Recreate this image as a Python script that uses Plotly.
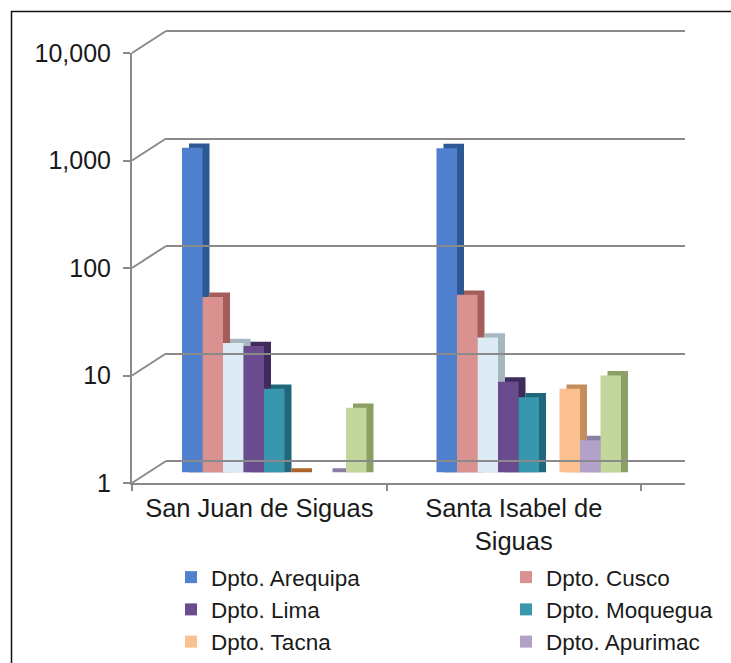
import math
import plotly.graph_objects as go

# ---------------- data ----------------
categories = ["San Juan de Siguas", "Santa Isabel de Siguas"]
category_labels = ["San Juan de Siguas", "Santa Isabel de<br>Siguas"]

series_names = ["Dpto. Arequipa", "Dpto. Cusco", "Dpto. Puno", "Dpto. Lima",
                "Dpto. Moquegua", "Dpto. Ica", "Dpto. Tacna", "Dpto. Apurimac", "Otros"]
arequipa = [1050, 1040]
cusco = [43, 45]
puno = [16, 18]
lima = [15, 7]
moquegua = [6, 5]
ica = [1, 0]
tacna = [0, 6]
apurimac = [1, 2]
otros = [4, 8]
y_ticks = [1, 10, 100, 1000, 10000]

series_values = [arequipa, cusco, puno, lima, moquegua, ica, tacna, apurimac, otros]

# ---------------- styles ----------------
front_colors = ["#4F81CF", "#D9928F", "#DCEBF4", "#6A4C8E", "#3896AE",
                "#E07A2E", "#FAC08F", "#B2A1C8", "#C3D69B"]
side_colors = ["#2E5893", "#A35D5A", "#A7B7C0", "#3F2B5C", "#21677B",
               "#B0642A", "#C58C5C", "#8C7DA6", "#8CA066"]
# which legend column each series sits in (None = not shown, cropped in original)
legend_slot = ["legend", "legend2", None, "legend", "legend2", None,
               "legend", "legend2", None]

W, H = 731, 663
def px(x):
    return x / W
def py(y):
    return 1 - y / H

GRID = "#8A8A8A"
FONT = "Liberation Sans, Arial, sans-serif"
TXT = "#1A1A1A"

# geometry (pixels)
FRONT_X0, FRONT_X1 = 132, 685
FRONT_Y1, FRONT_Y10K = 483, 53
BACK_X0, BACK_X1 = 166, 685
BACK_Y1, BACK_Y10K = 461, 31
BACK_PAD = 0.05  # decades of padding so edge gridlines get drawn
BAND = 254.5
BAR_X0 = 147
BAR_Y1, BAR_Y10K = 472.5, 42.5
BAR_PX = 20.5
DEPTH_DX, DEPTH_DY = 7.0, 4.3

n = len(series_values)
bw = BAR_PX / BAND
group_w = n * bw
decade_px = (BAR_Y1 - BAR_Y10K) / 4
depth_factor = 10 ** (DEPTH_DY / decade_px)
dx_units = DEPTH_DX / BAND
back_dec = (BACK_Y1 - BACK_Y10K) / 4

fig = go.Figure()

for i, (name, vals) in enumerate(zip(series_names, series_values)):
    off = -group_w / 2 + i * bw
    side_len = [v * depth_factor - 1 if v > 0 else None for v in vals]
    front_len = [v - 1 if v > 0 else None for v in vals]
    fig.add_trace(go.Bar(
        x=categories, y=side_len, base=1, offset=off + dx_units, width=bw,
        marker=dict(color=side_colors[i], line=dict(width=0)),
        showlegend=False, hoverinfo="skip", xaxis="x", yaxis="y"))
    fig.add_trace(go.Bar(
        x=categories, y=front_len, base=1, offset=off, width=bw, name=name,
        marker=dict(color=front_colors[i], line=dict(width=0)),
        showlegend=legend_slot[i] is not None,
        legend=legend_slot[i] if legend_slot[i] else "legend",
        customdata=vals,
        hovertemplate="%{x}<br>" + name + ": %{customdata}<extra></extra>",
        xaxis="x", yaxis="y"))

# helper traces to instantiate the front and back-wall axes
fig.add_trace(go.Scatter(x=categories, y=[None, None], xaxis="x2", yaxis="y2",
                         showlegend=False, hoverinfo="skip", mode="markers"))
fig.add_trace(go.Scatter(x=[None], y=[None], xaxis="x3", yaxis="y3",
                         showlegend=False, hoverinfo="skip", mode="markers"))

legend_common = dict(orientation="v", xanchor="left", yanchor="top",
                     font=dict(size=22.5, family=FONT, color=TXT),
                     bgcolor="rgba(0,0,0,0)", traceorder="normal",
                     borderwidth=0)

fig.update_layout(
    width=W, height=H,
    margin=dict(l=0, r=0, t=0, b=0, pad=0, autoexpand=False),
    paper_bgcolor="white", plot_bgcolor="rgba(0,0,0,0)",
    barmode="overlay",
    font=dict(family=FONT, color=TXT),
    # bar plane
    xaxis=dict(domain=[px(BAR_X0), px(BAR_X0 + 2 * BAND)], type="category",
               categoryarray=categories, range=[-0.5, 1.5],
               showticklabels=False, showgrid=False, showline=False, zeroline=False,
               ticks=""),
    yaxis=dict(domain=[py(BAR_Y1), py(BAR_Y10K)], type="log", range=[0, 4],
               showticklabels=False, showgrid=False, showline=False, zeroline=False,
               ticks=""),
    # front axes
    xaxis2=dict(domain=[px(FRONT_X0), px(FRONT_X1)], type="category",
                categoryarray=categories,
                range=[-0.5, 1.5 + (FRONT_X1 - FRONT_X0 - 2 * BAND) / BAND],
                tickmode="array", tickvals=categories, ticktext=category_labels,
                tickson="boundaries", ticks="outside", ticklen=6, tickwidth=1.5,
                tickcolor=GRID, showline=True, linecolor=GRID, linewidth=2,
                showgrid=False, zeroline=False, anchor="y2",
                tickfont=dict(size=25.5, family=FONT, color=TXT),
                ticklabelstandoff=1),
    yaxis2=dict(domain=[py(FRONT_Y1), py(FRONT_Y10K)], type="log", range=[0, 4],
                tickmode="array", tickvals=y_ticks, tickformat=",d",
                ticks="outside", ticklen=7, tickwidth=1.5, tickcolor=GRID,
                showline=True, linecolor=GRID, linewidth=2,
                showgrid=False, zeroline=False, anchor="x2",
                tickfont=dict(size=25, family=FONT, color=TXT),
                ticklabelstandoff=7),
    # back wall (gridlines)
    xaxis3=dict(domain=[px(BACK_X0), px(BACK_X1)], range=[0, 1], visible=False,
                anchor="y3"),
    yaxis3=dict(domain=[py(BACK_Y1 + BACK_PAD * back_dec),
                        py(BACK_Y10K - BACK_PAD * back_dec)],
                type="log", range=[-BACK_PAD, 4 + BACK_PAD],
                tickmode="array", tickvals=y_ticks, showticklabels=False,
                showgrid=True, gridcolor=GRID, gridwidth=2, showline=False,
                zeroline=False, ticks="", anchor="x3"),
    legend=dict(x=px(171), y=py(556), **legend_common),
    legend2=dict(x=px(506), y=py(556), **legend_common),
)

shapes = []
def yf(v):
    return FRONT_Y1 - math.log10(v) / 4 * (FRONT_Y1 - FRONT_Y10K)
def yb(v):
    return BACK_Y1 - math.log10(v) / 4 * (BACK_Y1 - BACK_Y10K)
for v in y_ticks:
    shapes.append(dict(type="line", xref="paper", yref="paper",
                       x0=px(FRONT_X0), y0=py(yf(v)), x1=px(BACK_X0), y1=py(yb(v)),
                       line=dict(color=GRID, width=2), layer="below"))
# outer frame
shapes.append(dict(type="rect", xref="paper", yref="paper",
                   x0=px(11.5), y0=-0.2, x1=1.2, y1=py(11.5),
                   line=dict(color="#111111", width=1.5), fillcolor="rgba(0,0,0,0)",
                   layer="above"))
fig.update_layout(shapes=shapes)

fig.write_html("out.html")
